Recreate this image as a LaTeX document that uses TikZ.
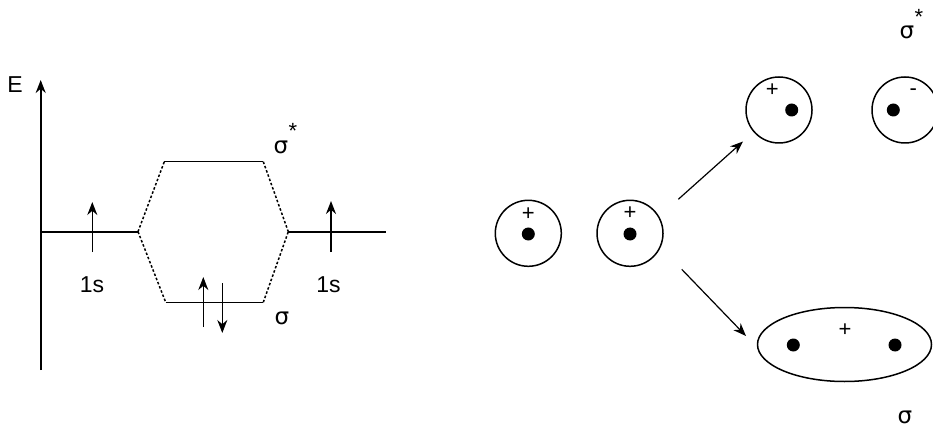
\documentclass[tikz,border=0pt]{standalone}
\usepackage{fontspec}
\setmainfont{Liberation Sans}
\newfontfamily\symfont{DejaVu Sans}
\usetikzlibrary{arrows.meta,shapes.geometric}
\begin{document}
\begin{tikzpicture}[x=1pt,y=-1pt,
  line/.style={line width=1.6pt},
  dsh/.style={line width=1.5pt,dash pattern=on 2.5pt off 2pt},
  arr/.style={line width=1.6pt,-{Stealth[length=13pt,width=10pt]}},
  lbl/.style={inner sep=0pt,font=\fontsize{23}{27}\selectfont},
  sig/.style={inner sep=0pt,font=\fontsize{23}{27}\selectfont},
  sgn/.style={inner sep=0pt,font=\fontsize{22}{26}\selectfont},
  orb/.style={circle,draw,line width=1.5pt,minimum size=66pt,inner sep=0pt},
  nuc/.style={circle,fill,minimum size=13pt,inner sep=0pt}]
\useasboundingbox (0,0) rectangle (933,430);
% energy axis
\coordinate (ax0) at (40.7,370);
\coordinate (ax1) at (40.7,80);
\draw[arr] (ax0) -- (ax1);
\node[lbl] (E) at (15,85) {E};
% levels
\coordinate (L1) at (40.7,231.7);
\coordinate (L2) at (138,231.7);
\coordinate (R1) at (288.3,231.7);
\coordinate (R2) at (385.7,231.7);
\coordinate (S1) at (164.3,161.7);
\coordinate (S2) at (263.3,161.7);
\coordinate (B1) at (165.7,302.3);
\coordinate (B2) at (263.3,302.3);
\draw[line] (L1) -- (L2);
\draw[line] (R1) -- (R2);
\draw[line] (S1) -- (S2);
\draw[line] (B1) -- (B2);
\draw[dsh] (L2) -- (S1);
\draw[dsh] (L2) -- (B1);
\draw[dsh] (S2) -- (R1);
\draw[dsh] (B2) -- (R1);
% electrons
\coordinate (e1a) at (92.3,252);
\coordinate (e1b) at (92.3,202);
\coordinate (e2a) at (331,252);
\coordinate (e2b) at (331,201);
\coordinate (e3a) at (203.3,327);
\coordinate (e3b) at (203.3,277);
\coordinate (e4a) at (222.3,283);
\coordinate (e4b) at (222.3,333);
\draw[arr] (e1a) -- (e1b);
\draw[arr] (e2a) -- (e2b);
\draw[arr] (e3a) -- (e3b);
\draw[arr] (e4a) -- (e4b);
\node[lbl] (s1) at (92,285) {1s};
\node[lbl] (s2) at (328.5,285) {1s};
\node[sig] (sst) at (281,147) {\symfont σ};
\node[sgn] (sstar) at (293,131) {*};
\node[sig] (sb) at (282,318) {\symfont σ};
% right side atoms
\node[orb] (o1) at (528.3,233.3) {};
\node[nuc] (n1) at (528.3,234) {};
\node[sgn] (p1) at (528.3,214) {+};
\node[orb] (o2) at (630,233.3) {};
\node[nuc] (n2) at (630,234) {};
\node[sgn] (p2) at (630,213.5) {+};
% antibonding
\node[orb] (o3) at (779,110) {};
\node[nuc] (n3) at (791.7,110) {};
\node[sgn] (p3) at (772.3,90) {+};
\node[orb] (o4) at (905,110) {};
\node[nuc] (n4) at (893.3,110) {};
\node[sgn] (m4) at (913.3,92) {-};
\node[sig] (ssr) at (907,32) {\symfont σ};
\node[sgn] (ssrs) at (919,17) {*};
% bonding
\node[ellipse,draw,line width=1.5pt,minimum width=174pt,minimum height=74pt,inner sep=0pt] (el) at (844.5,344.5) {};
\node[nuc] (n5) at (793.3,345) {};
\node[nuc] (n6) at (895,345) {};
\node[sgn] (p5) at (845,330) {+};
\node[sig] (sbr) at (905,417) {\symfont σ};
% arrows
\coordinate (a1) at (678.3,199.3);
\coordinate (a2) at (743,141.5);
\coordinate (a3) at (681.7,269.3);
\coordinate (a4) at (746,336);
\draw[arr,line width=1.2pt] (a1) -- (a2);
\draw[arr,line width=1.2pt] (a3) -- (a4);
\end{tikzpicture}
\end{document}
